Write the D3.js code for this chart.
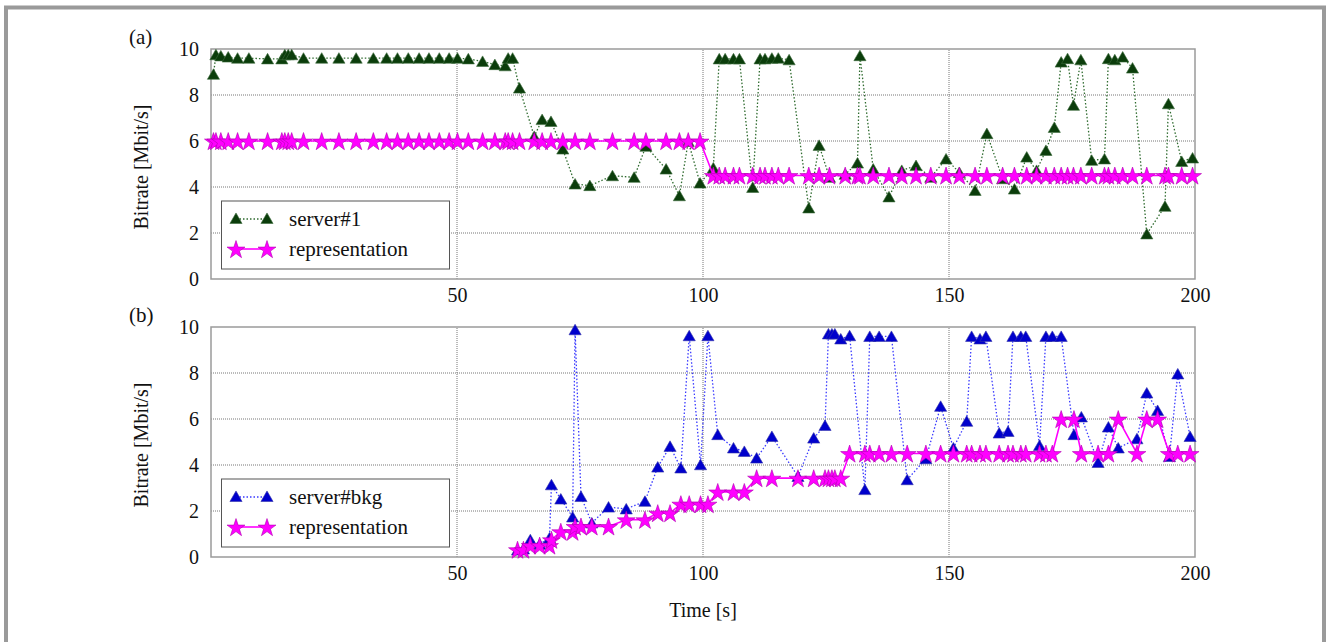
<!DOCTYPE html>
<html>
<head>
<meta charset="utf-8">
<script src="https://cdn.jsdelivr.net/npm/d3@7"></script>
<style>
  body { margin: 0; background: #fff; }
  svg text { fill: #111; }
</style>
</head>
<body>
<svg></svg>
<script>
// panel (a): server#1 vs representation
var timesA = [0.5, 1.0, 2.0, 3.5, 5.4, 7.7, 11.5, 14.4, 15.0, 15.7, 16.4, 18.8, 22.5, 26.0, 29.5, 33.0,
  35.7, 37.9, 40.1, 42.3, 44.3, 46.4, 48.4, 50.1, 52.3, 55.2, 57.7, 59.8, 60.4, 61.3, 62.7, 65.7,
  67.3, 69.1, 71.5, 74.0, 77.0, 81.6, 86.0, 88.4, 92.5, 95.2, 97.0, 99.4,
  102.1, 103.3, 104.5, 106.2, 107.4, 110.1, 111.6, 112.6, 114.0, 115.3, 117.5, 121.5, 123.6, 125.7,
  128.9, 131.4, 131.9, 134.6, 137.8, 140.4, 143.3, 146.3, 149.4, 152.1, 155.3, 157.7, 160.9, 163.3,
  165.8, 167.8, 169.7, 171.4, 172.8, 174.1, 175.3, 176.8, 179.0, 181.6, 182.4, 183.7, 185.3, 187.3,
  190.2, 193.9, 194.6, 197.3, 199.5];
var server1 = [8.9, 9.75, 9.7, 9.65, 9.6, 9.6, 9.57, 9.57, 9.75, 9.75, 9.75, 9.6, 9.6, 9.6, 9.6, 9.6,
  9.6, 9.6, 9.6, 9.6, 9.6, 9.6, 9.6, 9.6, 9.57, 9.46, 9.32, 9.27, 9.6, 9.6, 8.3, 6.2,
  6.93, 6.85, 5.65, 4.13, 4.06, 4.49, 4.42, 5.77, 4.78, 3.62, 5.98, 4.17,
  4.83, 9.57, 9.57, 9.57, 9.57, 3.98, 9.57, 9.57, 9.6, 9.6, 9.53, 3.09, 5.81, 4.42,
  4.55, 5.04, 9.71, 4.78, 3.57, 4.72, 4.93, 4.42, 5.22, 4.63, 3.85, 6.32, 4.36, 3.91,
  5.30, 4.72, 5.59, 6.59, 9.43, 9.58, 7.55, 9.53, 5.16, 5.22, 9.58, 9.53, 9.65, 9.17,
  1.96, 3.16, 7.62, 5.11, 5.26];
var reprA = [6, 6, 6, 6, 6, 6, 6, 6, 6, 6, 6, 6, 6, 6, 6, 6,
  6, 6, 6, 6, 6, 6, 6, 6, 6, 6, 6, 6, 6, 6, 6, 6,
  6, 6, 6, 6, 6, 6, 6, 6, 6, 6, 6, 6,
  4.5, 4.5, 4.5, 4.5, 4.5, 4.5, 4.5, 4.5, 4.5, 4.5, 4.5, 4.5, 4.5, 4.5,
  4.5, 4.5, 4.5, 4.5, 4.5, 4.5, 4.5, 4.5, 4.5, 4.5, 4.5, 4.5, 4.5, 4.5,
  4.5, 4.5, 4.5, 4.5, 4.5, 4.5, 4.5, 4.5, 4.5, 4.5, 4.5, 4.5, 4.5, 4.5,
  4.5, 4.5, 4.5, 4.5, 4.5];

// panel (b): server#bkg vs representation
var timesB = [62.3, 63.5, 64.9, 66.8, 68.8, 69.2, 71.1, 73.5, 74.0, 75.2,
  77.4, 80.8, 84.4, 88.2, 90.8, 93.3, 95.5, 97.2, 99.5, 101.0,
  103.0, 106.2, 108.4, 110.9, 114.0, 119.3, 122.5, 124.8, 125.5, 126.2,
  126.8, 128.0, 129.8, 132.9, 133.9, 135.8, 138.3, 141.5, 145.3, 148.3,
  150.9, 153.6, 154.6, 156.3, 157.5, 160.2, 162.0, 163.0, 164.6, 165.6,
  168.4, 169.7, 171.0, 172.8, 175.4, 176.9, 180.3, 182.4, 184.4, 188.2,
  190.2, 192.4, 194.8, 196.5, 199.0];
var serverBkg = [0.3, 0.35, 0.75, 0.55, 0.83, 3.14, 2.52, 1.74, 9.88, 2.63,
  1.48, 2.17, 2.09, 2.42, 3.91, 4.81, 3.87, 9.62, 4.01, 9.62,
  5.32, 4.74, 4.59, 4.30, 5.24, 3.50, 5.17, 5.72, 9.70, 9.70,
  9.70, 9.48, 9.62, 2.93, 9.59, 9.59, 9.59, 3.36, 4.27, 6.55,
  4.74, 5.90, 9.59, 9.48, 9.59, 5.39, 5.46, 9.59, 9.59, 9.59,
  4.85, 9.59, 9.59, 9.59, 5.32, 6.09, 4.11, 5.65, 4.74, 5.14,
  7.13, 6.37, 4.37, 7.96, 5.24];
var reprB = [0.32, 0.32, 0.5, 0.5, 0.5, 0.75, 1.1, 1.1, 1.33, 1.33,
  1.33, 1.33, 1.62, 1.62, 1.91, 1.91, 2.3, 2.3, 2.3, 2.3,
  2.83, 2.83, 2.83, 3.43, 3.43, 3.43, 3.43, 3.43, 3.43, 3.43,
  3.43, 3.43, 4.5, 4.5, 4.5, 4.5, 4.5, 4.5, 4.5, 4.5,
  4.5, 4.5, 4.5, 4.5, 4.5, 4.5, 4.5, 4.5, 4.5, 4.5,
  4.5, 4.5, 4.5, 6.0, 6.0, 4.5, 4.5, 4.5, 6.0, 4.5,
  6.0, 6.0, 4.5, 4.5, 4.5];

var xTicks = [50, 100, 150, 200];
var yTicks = [0, 2, 4, 6, 8, 10];
var gridX = [50, 100, 150];
var gridY = [2, 4, 6, 8];

var width = 1327;
var height = 642;
var serif = '"Liberation Serif", "Times New Roman", Times, "DejaVu Serif", serif';

var svg = d3.select('svg')
    .attr('width', width)
    .attr('height', height)
    .attr('font-family', serif);

// outer gray frame
svg.append('rect')
    .attr('x', 6).attr('y', 7.5)
    .attr('width', 1318).attr('height', 700)
    .attr('fill', 'none')
    .attr('stroke', '#9a9a9a')
    .attr('stroke-width', 4);

var xScale = d3.scaleLinear().domain([0, 200]).range([211, 1195]);

var triangle = d3.symbol().type(d3.symbolTriangle).size(64);
var star = d3.symbol().type(d3.symbolStar).size(100);

function drawPanel(top, tag, times, server, repr, serverName, colors) {
    var yScale = d3.scaleLinear().domain([0, 10]).range([top + 230, top]);
    var g = svg.append('g');

    // grid
    g.selectAll('.gx').data(gridX).enter().append('line')
        .attr('x1', d => xScale(d)).attr('x2', d => xScale(d))
        .attr('y1', yScale(0)).attr('y2', yScale(10))
        .attr('stroke', '#777').attr('stroke-width', 1)
        .attr('stroke-dasharray', '1,1');
    g.selectAll('.gy').data(gridY).enter().append('line')
        .attr('x1', xScale(0)).attr('x2', xScale(200))
        .attr('y1', d => yScale(d)).attr('y2', d => yScale(d))
        .attr('stroke', '#777').attr('stroke-width', 1)
        .attr('stroke-dasharray', '1,1');

    // axes (labels only, frame drawn as rect)
    var xAxis = d3.axisBottom(xScale).tickValues(xTicks).tickSize(0).tickPadding(9);
    var yAxis = d3.axisLeft(yScale).tickValues(yTicks).tickSize(0).tickPadding(12);
    g.append('g').attr('transform', `translate(0,${yScale(0)})`).call(xAxis)
        .attr('font-family', serif).attr('font-size', 20);
    g.append('g').attr('transform', `translate(${xScale(0)},0)`).call(yAxis)
        .attr('font-family', serif).attr('font-size', 20);
    g.selectAll('.domain').remove();
    g.selectAll('.tick text').attr('fill', '#111');

    g.append('rect')
        .attr('x', xScale(0)).attr('y', yScale(10))
        .attr('width', xScale(200) - xScale(0))
        .attr('height', yScale(0) - yScale(10))
        .attr('fill', 'none')
        .attr('stroke', '#9a9a9a')
        .attr('stroke-width', 1.5);

    var pts = times.map((t, i) => ({ t: t, s: server[i], r: repr[i] }));

    // server line + markers
    g.append('path')
        .datum(pts)
        .attr('fill', 'none')
        .attr('stroke', colors.line)
        .attr('stroke-width', 1.3)
        .attr('stroke-dasharray', '1.5,2')
        .attr('d', d3.line().x(d => xScale(d.t)).y(d => yScale(d.s)));
    g.selectAll('.tri').data(pts).enter().append('path')
        .attr('d', triangle)
        .attr('transform', d => `translate(${xScale(d.t)},${yScale(d.s) + 1.5})`)
        .attr('fill', colors.mark)
        .attr('stroke', colors.markStroke)
        .attr('stroke-width', 0.6);

    // representation line + stars
    g.append('path')
        .datum(pts)
        .attr('fill', 'none')
        .attr('stroke', '#ff00ff')
        .attr('stroke-width', 1.6)
        .attr('d', d3.line().x(d => xScale(d.t)).y(d => yScale(d.r)));
    g.selectAll('.star').data(pts).enter().append('path')
        .attr('d', star)
        .attr('transform', d => `translate(${xScale(d.t)},${yScale(d.r) + 1})`)
        .attr('fill', '#ff00ff')
        .attr('stroke', '#b000b0')
        .attr('stroke-width', 0.6);

    // y axis title
    svg.append('text')
        .attr('transform', 'rotate(-90)')
        .attr('x', -(top + 118))
        .attr('y', 148)
        .style('text-anchor', 'middle')
        .style('font-size', '20px')
        .text('Bitrate [Mbit/s]');

    // panel tag
    svg.append('text')
        .attr('x', 129).attr('y', top - 5)
        .style('font-size', '21px')
        .text(tag);

    // legend
    var ly = top + 152;
    var lg = svg.append('g');
    lg.append('rect')
        .attr('x', 221.5).attr('y', ly)
        .attr('width', 228).attr('height', 68)
        .attr('fill', '#fff')
        .attr('stroke', '#555')
        .attr('stroke-width', 1);
    lg.append('line')
        .attr('x1', 236).attr('x2', 267)
        .attr('y1', ly + 18).attr('y2', ly + 18)
        .attr('stroke', colors.line).attr('stroke-width', 1.3)
        .attr('stroke-dasharray', '1.5,2');
    [236, 267].forEach(x => {
        lg.append('path').attr('d', triangle)
            .attr('transform', `translate(${x},${ly + 19})`)
            .attr('fill', colors.mark).attr('stroke', colors.markStroke).attr('stroke-width', 0.6);
    });
    lg.append('text').attr('x', 289).attr('y', ly + 25)
        .style('font-size', '21px').text(serverName);
    lg.append('line')
        .attr('x1', 236).attr('x2', 267)
        .attr('y1', ly + 48).attr('y2', ly + 48)
        .attr('stroke', '#ff00ff').attr('stroke-width', 1.6);
    [236, 267].forEach(x => {
        lg.append('path').attr('d', star)
            .attr('transform', `translate(${x},${ly + 49})`)
            .attr('fill', '#ff00ff').attr('stroke', '#b000b0').attr('stroke-width', 0.6);
    });
    lg.append('text').attr('x', 289).attr('y', ly + 55)
        .style('font-size', '21px').text('representation');
}

drawPanel(49, '(a)', timesA, server1, reprA, 'server#1',
    { line: '#2f6b2f', mark: '#0b3d0b', markStroke: '#3d6b3d' });
drawPanel(327, '(b)', timesB, serverBkg, reprB, 'server#bkg',
    { line: '#3a3aff', mark: '#0000cc', markStroke: '#3333aa' });

svg.append('text')
    .attr('x', xScale(100))
    .attr('y', 617)
    .style('text-anchor', 'middle')
    .style('font-size', '20px')
    .text('Time [s]');
</script>
</body>
</html>
